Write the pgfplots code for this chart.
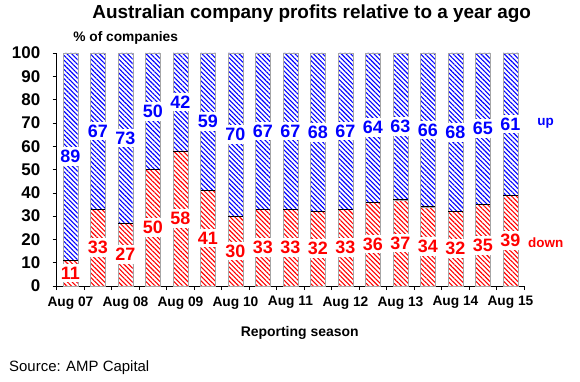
\documentclass[border=0pt]{standalone}
\usepackage{pgfplots}
\pgfplotsset{compat=1.18}
\usepackage{pgfplotstable}
\usepackage{fontspec}
\setmainfont{Liberation Sans}
\usetikzlibrary{patterns.meta}

\pgfplotstableread{
x down up
0 11 89
1 33 67
2 27 73
3 50 50
4 58 42
5 41 59
6 30 70
7 33 67
8 33 67
9 32 68
10 33 67
11 36 64
12 37 63
13 34 66
14 32 68
15 35 65
16 39 61
}\profits

\begin{document}
\begin{tikzpicture}
\path[use as bounding box] (-56.7bp,-96bp) rectangle (523.3bp,286bp);
\begin{axis}[
  at={(0,0)}, anchor=south west,
  scale only axis, width=467.5bp, height=233bp,
  xmin=-0.5, xmax=16.5, ymin=0, ymax=100,
  axis x line=bottom, axis y line=left,
  axis line style={-, black, line width=0.6pt},
  tick style={black, line width=0.6pt},
  tick align=outside, major tick length=4bp,
  ytick={0,10,20,30,40,50,60,70,80,90,100},
  xtick={-0.5,0.5,1.5,2.5,3.5,4.5,5.5,6.5,7.5,8.5,9.5,10.5,11.5,12.5,13.5,14.5,15.5,16.5},
  xticklabels={},
  extra x ticks={0,2,4,6,8,10,12,14,16},
  extra x tick labels={Aug 07,Aug 08,Aug 09,Aug 10,Aug 11,Aug 12,Aug 13,Aug 14,Aug 15},
  extra x tick style={major tick length=0pt},
  /pgf/number format/assume math mode=true,
  yticklabel style={font=\fontsize{17}{17}\selectfont\bfseries, xshift=-9bp},
  xticklabel style={font=\fontsize{13.8}{13.8}\selectfont\bfseries, yshift=-7bp},
  clip=false,
]
% blue "up" bars (stack total)
\addplot[ybar, bar width=14.6bp, bar shift=0pt, draw=gray!70, line width=0.5pt, fill=white,
  postaction={pattern={Lines[angle=-45,distance=3.3pt,line width=1.1pt]}, pattern color=blue}]
  table[x=x, y expr=\thisrow{down}+\thisrow{up}] {\profits};
% red "down" bars
\addplot[ybar, bar width=14.6bp, bar shift=0pt, draw=gray!70, line width=0.5pt, fill=white,
  postaction={pattern={Lines[angle=-45,distance=3.3pt,line width=1.1pt]}, pattern color=red}]
  table[x=x, y=down] {\profits};
% divider lines
\addplot[only marks, mark=-, mark size=7.3pt, mark options={black, line width=0.7pt}]
  table[x=x, y=down] {\profits};
% up labels
\addplot[only marks, mark=*, mark size=0pt, mark options={draw=none, fill=none},
  point meta=explicit, nodes near coords, nodes near coords align=center,
  every node near coord/.append style={anchor=center, font=\fontsize{18}{18}\selectfont\bfseries, text=blue, fill=white, inner xsep=1pt, inner ysep=3pt}]
  table[x=x, y expr=\thisrow{down}+0.5*\thisrow{up}, meta=up] {\profits};
% down labels
\addplot[only marks, mark=*, mark size=0pt, mark options={draw=none, fill=none},
  point meta=explicit, nodes near coords, nodes near coords align=center,
  every node near coord/.append style={anchor=center, font=\fontsize{18}{18}\selectfont\bfseries, text=red, fill=white, inner xsep=1pt, inner ysep=3pt}]
  table[x=x, y expr=0.5*\thisrow{down}, meta=down] {\profits};
\end{axis}
\node[font=\fontsize{19}{19}\selectfont\bfseries] at (255bp,272bp) {Australian company profits relative to a year ago};
\node[font=\fontsize{13.8}{13.8}\selectfont\bfseries] at (69bp,248bp) {\% of companies};
\node[font=\fontsize{13.5}{13.5}\selectfont\bfseries, text=blue] at (489bp,163bp) {up};
\node[font=\fontsize{13.5}{13.5}\selectfont\bfseries, text=red] at (489bp,43bp) {down};
\node[font=\fontsize{14}{14}\selectfont\bfseries] at (243bp,-47bp) {Reporting season};
\node[font=\fontsize{15}{15}\selectfont, anchor=west] at (-51bp,-82bp) {Source: AMP Capital};
\end{tikzpicture}
\end{document}
